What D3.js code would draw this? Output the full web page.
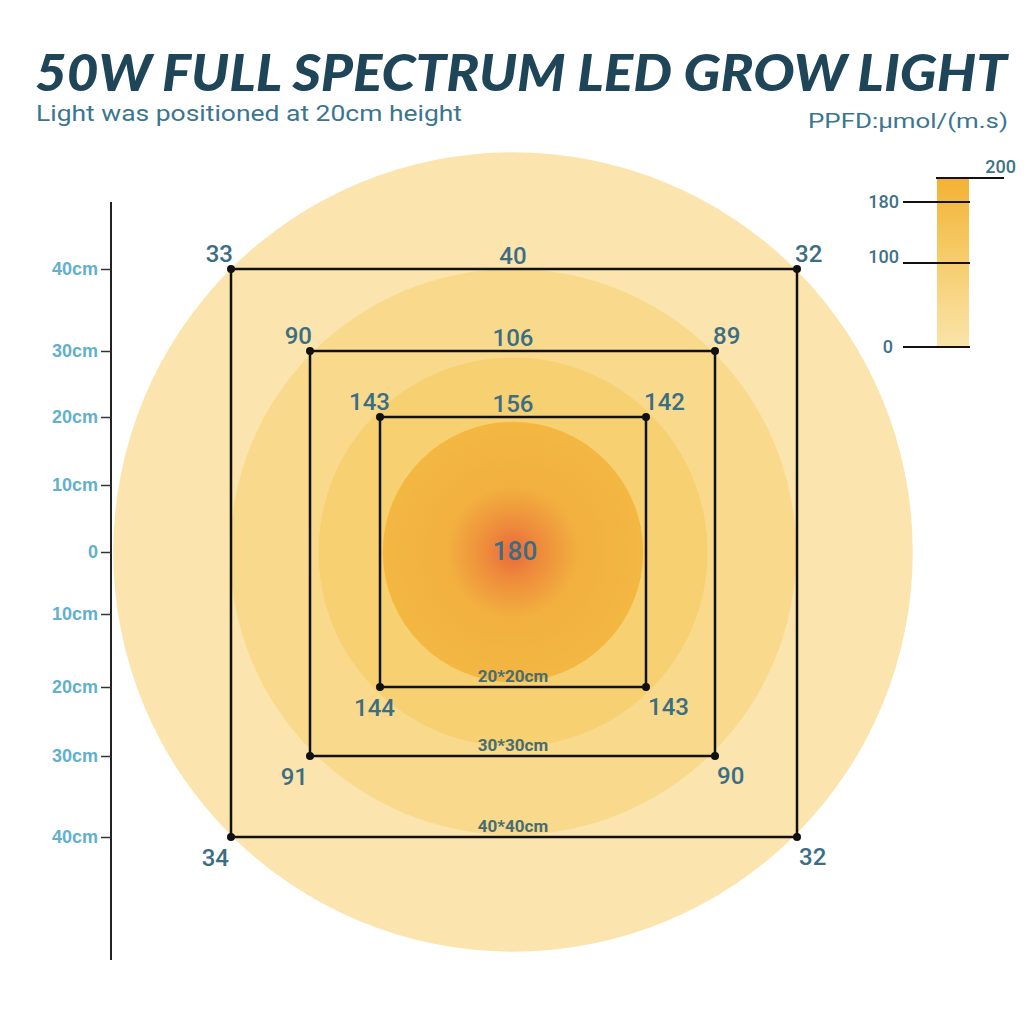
<!DOCTYPE html>
<html>
<head>
    <meta charset="utf-8">
    <style>
        body {
            margin: 0;
            background: #fff;
        }

        svg {
            display: block;
            font-family: Roboto, 'Noto Sans', sans-serif;
        }

        .title {
            font-family: Lato, 'DejaVu Sans', sans-serif;
            font-weight: 900;
            font-style: italic;
            font-size: 52px;
            fill: #1f4558;
        }

        .subtitle {
            font-size: 22px;
            font-weight: 400;
            fill: #3a7690;
        }

        .y .tick text {
            font-size: 18px;
            font-weight: 700;
            fill: #62b0cc;
        }

        .y .tick line {
            stroke: #333;
            stroke-width: 1.5;
        }

        .y .domain {
            stroke: #222;
            stroke-width: 2;
        }

        .val {
            font-size: 24px;
            font-weight: 500;
            fill: #3b6e82;
        }

        .size-label {
            font-size: 17px;
            font-weight: 700;
            fill: #476d70;
        }

        .legend text {
            font-size: 18px;
            font-weight: 500;
            fill: #3e7284;
        }
    </style>
</head>

<body>
    <svg width="1024" height="1024"></svg>
</body>

<script src="https://d3js.org/d3.v7.min.js"></script>

<script>
    // ---- data ----
    let axisTicks = [40, 30, 20, 10, 0, -10, -20, -30, -40];   // cm
    let axisTickLabels = ["40cm", "30cm", "20cm", "10cm", "0", "10cm", "20cm", "30cm", "40cm"];

    let squareSizes = [40, 30, 20];                 // cm, half-extent on the axis
    let squareLabels = ["40*40cm", "30*30cm", "20*20cm"];
    // PPFD readings at each square
    let topLeft = [33, 90, 143];
    let topRight = [32, 89, 142];
    let bottomLeft = [34, 91, 144];
    let bottomRight = [32, 90, 143];
    let topMiddle = [40, 106, 156];
    let centerValue = 180;

    let zoneRadii = [56.5, 40, 27.5, 18.4];         // cm, light zones
    let zoneColors = ["#fbe4ad", "#f9da8c", "#f7d072", "#f3b640"];

    let legendTicks = [0, 100, 180, 200];

    let svg = d3.select("svg");

    // piecewise scales (the drawing isn't quite linear)
    let x = d3.scaleLinear()
        .domain([-40, -30, -20, 0, 20, 30, 40])
        .range([231, 310, 380, 513, 646, 715, 797]);

    let y = d3.scaleLinear()
        .domain([40, 30, 20, 10, 0, -10, -20, -30, -40])
        .range([269, 351, 417, 485, 552, 614, 687, 756, 837]);

    let r = d3.scaleLinear().domain([0, 40]).range([0, 283]);

    let cx = x(0), cy = y(0);

    // titles
    svg.append("text")
        .attr("class", "title")
        .attr("x", 35)
        .attr("y", 91)
        .attr("textLength", 972)
        .attr("lengthAdjust", "spacingAndGlyphs")
        .text("50W FULL SPECTRUM LED GROW LIGHT");

    svg.append("text")
        .attr("class", "subtitle")
        .attr("x", 36)
        .attr("y", 121)
        .attr("textLength", 426)
        .attr("lengthAdjust", "spacingAndGlyphs")
        .text("Light was positioned at 20cm height");

    svg.append("text")
        .attr("class", "subtitle")
        .attr("x", 1008)
        .attr("y", 128)
        .attr("text-anchor", "end")
        .attr("textLength", 200)
        .attr("lengthAdjust", "spacingAndGlyphs")
        .style("font-size", "21px")
        .text("PPFD:µmol/(m.s)");

    // gradients
    let defs = svg.append("defs");
    let hot = defs.append("radialGradient").attr("id", "hot");
    hot.append("stop").attr("offset", "0%").attr("stop-color", "#e9683a");
    hot.append("stop").attr("offset", "20%").attr("stop-color", "#ee8a3c");
    hot.append("stop").attr("offset", "50%").attr("stop-color", "#f2b03f");
    hot.append("stop").attr("offset", "100%").attr("stop-color", "#f3b742");

    let bar = defs.append("linearGradient").attr("id", "bar")
        .attr("x1", 0).attr("x2", 0).attr("y1", 0).attr("y2", 1);
    bar.append("stop").attr("offset", "0%").attr("stop-color", "#f3b234");
    bar.append("stop").attr("offset", "45%").attr("stop-color", "#f6cb68");
    bar.append("stop").attr("offset", "100%").attr("stop-color", "#fae4aa");

    // light zones
    svg.append("g")
        .selectAll("circle")
        .data(zoneRadii)
        .join("circle")
        .attr("cx", cx)
        .attr("cy", cy)
        .attr("r", d => r(d))
        .style("fill", (d, i) => i == zoneRadii.length - 1 ? "url(#hot)" : zoneColors[i]);

    // y axis
    let yAxis = d3.axisLeft(y)
        .tickValues(axisTicks)
        .tickSize(10)
        .tickPadding(3)
        .tickFormat((d, i) => axisTickLabels[i]);

    let yg = svg.append("g")
        .attr("class", "y axis")
        .attr("transform", "translate(111,0)")
        .call(yAxis);

    yg.select(".domain").attr("d", "M0,202V960");

    // squares
    let squares = svg.append("g");
    squareSizes.forEach(function (s, i) {
        let x0 = x(-s), x1 = x(s), y0 = y(s), y1 = y(-s);

        squares.append("rect")
            .attr("x", x0).attr("y", y0)
            .attr("width", x1 - x0).attr("height", y1 - y0)
            .style("fill", "none")
            .style("stroke", "#111")
            .style("stroke-width", 2.5);

        let corners = [[x0, y0], [x1, y0], [x0, y1], [x1, y1]];
        squares.selectAll(null)
            .data(corners)
            .join("circle")
            .attr("cx", d => d[0])
            .attr("cy", d => d[1])
            .attr("r", 4)
            .style("fill", "#111");

        let inner = i == squareSizes.length - 1;
        let labels = [
            { v: topLeft[i], x: x0 + (inner ? 10 : 2), y: y0 - 7, a: "end" },
            { v: topRight[i], x: x1 - 2, y: y0 - 7, a: "start" },
            { v: bottomLeft[i], x: x0 + (inner ? 15 : -2), y: y1 + 29, a: "end" },
            { v: bottomRight[i], x: x1 + 2, y: y1 + 28, a: "start" },
            { v: topMiddle[i], x: cx, y: y0 - 5, a: "middle" }
        ];

        squares.selectAll(null)
            .data(labels)
            .join("text")
            .attr("class", "val")
            .attr("x", d => d.x)
            .attr("y", d => d.y)
            .attr("text-anchor", d => d.a)
            .text(d => d.v);

        squares.append("text")
            .attr("class", "size-label")
            .attr("x", cx)
            .attr("y", y1 - 5)
            .attr("text-anchor", "middle")
            .text(squareLabels[i]);
    });

    svg.append("text")
        .attr("class", "val")
        .attr("x", cx + 2)
        .attr("y", cy + 8)
        .attr("text-anchor", "middle")
        .style("font-size", "26px")
        .text(centerValue);

    // legend
    let ly = d3.scaleLinear()
        .domain(legendTicks)
        .range([347, 263, 202, 178]);

    let legend = svg.append("g").attr("class", "legend");

    legend.append("rect")
        .attr("x", 937)
        .attr("y", ly(200))
        .attr("width", 32)
        .attr("height", ly(0) - ly(200))
        .style("fill", "url(#bar)");

    legend.selectAll("line")
        .data(legendTicks)
        .join("line")
        .attr("x1", d => d == 200 ? 936 : 903)
        .attr("x2", d => d == 200 ? 1004 : 970)
        .attr("y1", d => ly(d))
        .attr("y2", d => ly(d))
        .style("stroke", "#111")
        .style("stroke-width", 2);

    legend.selectAll("text")
        .data(legendTicks)
        .join("text")
        .attr("x", d => d == 200 ? 1016 : (d == 0 ? 893 : 899))
        .attr("y", d => d == 200 ? ly(d) - 5 : (d == 100 ? ly(d) : ly(d) + 6))
        .attr("text-anchor", "end")
        .text(d => d);
</script>
</html>
